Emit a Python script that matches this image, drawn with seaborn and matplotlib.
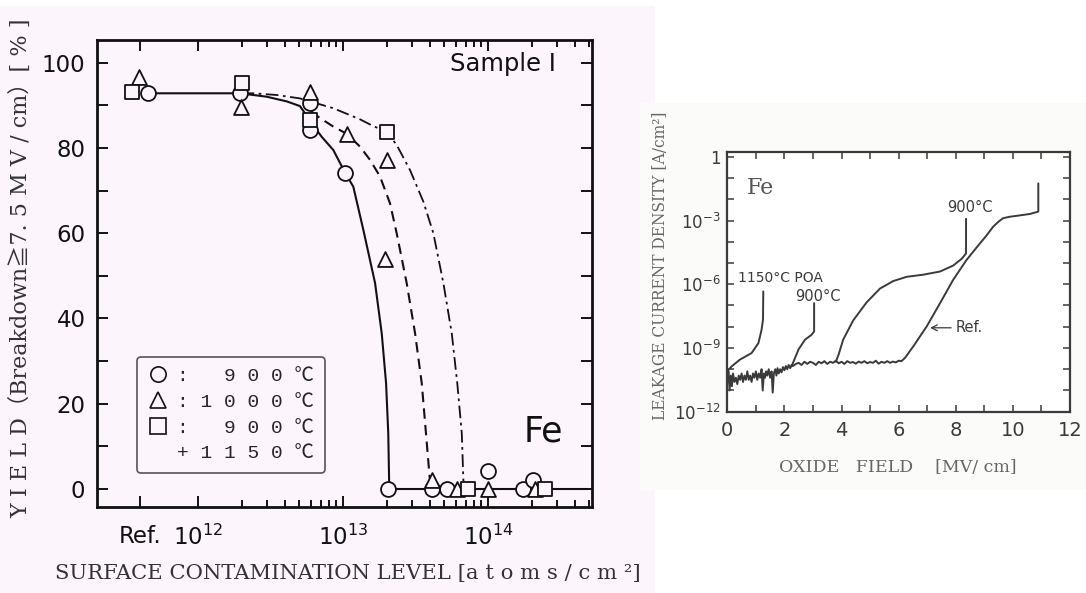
import numpy as np
import matplotlib
matplotlib.use("Agg")
import matplotlib.pyplot as plt
import seaborn as sns
from matplotlib.lines import Line2D
from matplotlib.patches import Rectangle
from matplotlib.ticker import FixedLocator, FixedFormatter, NullFormatter

# ---------------- Left panel: yield vs surface contamination (x = log10 atoms/cm2) -------------
circle_logx = [11.657, 12.290, 12.772, 12.772, 13.014, 13.312, 13.612, 13.715, 14.002, 14.239, 14.312]
circle_y = [92.8, 92.8, 90.6, 84.2, 74.2, 0.0, 0.0, 0.0, 4.2, 0.0, 2.0]
tri_logx = [11.595, 12.297, 12.772, 13.026, 13.300, 13.290, 13.612, 13.784, 14.002, 14.324]
tri_y = [96.7, 89.5, 93.2, 83.3, 77.2, 53.9, 2.0, 0.0, 0.0, 0.0]
sq_logx = [11.547, 12.301, 12.772, 13.300, 13.864, 14.393]
sq_y = [93.0, 95.3, 86.6, 83.8, 0.0, 0.0]

solid_logx = [11.70, 12.29, 12.474, 12.612, 12.703, 12.818, 12.853, 12.933, 13.014, 13.071,
              13.140, 13.221, 13.267, 13.297, 13.312, 13.319]
solid_y = [92.8, 92.8, 92.0, 90.9, 89.8, 84.2, 82.6, 79.5, 74.2, 70.9,
           60.8, 48.3, 36.5, 24.8, 13.1, 0.0]
dashed_logx = [12.780, 12.841, 12.933, 13.026, 13.117, 13.186, 13.255, 13.324, 13.370, 13.439,
               13.497, 13.543, 13.572, 13.598]
dashed_y = [88.6, 87.0, 85.0, 83.3, 80.3, 77.2, 73.3, 67.0, 60.0, 48.3,
            36.5, 24.8, 13.1, 2.5]
dashdot_logx = [12.300, 12.381, 12.543, 12.703, 12.933, 13.117, 13.209, 13.300, 13.370, 13.462,
                13.554, 13.623, 13.692, 13.750, 13.788, 13.819, 13.830, 13.840]
dashdot_y = [92.8, 92.8, 92.4, 91.6, 89.3, 86.7, 85.1, 83.8, 80.7, 74.8,
             67.4, 60.0, 48.3, 36.5, 24.8, 13.1, 2.1, 0.0]
zero_logx = [13.319, 14.680]
zero_y = [0.0, 0.0]

left_xtick_logs = [11.6, 12, 13, 14]
left_xtick_labels = ["Ref.", r"$10^{12}$", r"$10^{13}$", r"$10^{14}$"]
left_yticks = [0, 20, 40, 60, 80, 100]
legend_labels = [":   9 0 0 ℃", ": 1 0 0 0 ℃", ":   9 0 0 ℃", "+ 1 1 5 0 ℃"]

# ---------------- Right panel: leakage current density vs oxide field (log10 A/cm2) -------------
ref_field = [0.00, 0.04, 0.08, 0.12, 0.16, 0.20, 0.25, 0.30, 0.35, 0.40, 0.45, 0.50, 0.55, 0.60,
             0.65, 0.70, 0.75, 0.80, 0.85, 0.90, 0.95, 1.00, 1.05, 1.10, 1.15, 1.20, 1.24, 1.28,
             1.32, 1.36, 1.40, 1.45, 1.50, 1.55, 1.59, 1.63, 1.68, 1.72, 1.76, 1.80, 1.85, 1.90,
             1.95, 2.00, 2.05, 2.10, 2.15, 2.20, 2.25, 2.30, 2.40,
             2.5, 2.6, 2.7, 2.8, 2.9, 3.0, 3.1, 3.2, 3.3, 3.4, 3.5, 3.6, 3.7, 3.8, 3.9, 4.0,
             4.1, 4.2, 4.3, 4.4, 4.5, 4.6, 4.7, 4.8, 4.9, 5.0, 5.1, 5.2, 5.3, 5.4, 5.5, 5.6,
             5.7, 5.8, 5.9, 6.0, 6.1,
             6.22, 6.51, 6.98, 7.45, 7.91, 8.38, 8.85, 9.05, 9.31, 9.50, 9.66, 9.90, 10.13,
             10.60, 10.89, 10.89]
ref_logj = [-10.6, -10.1, -11.0, -10.3, -10.8, -10.2, -10.6, -10.4, -10.7, -10.3, -10.5, -10.2,
            -10.6, -10.3, -10.5, -10.1, -10.5, -10.3, -10.6, -10.2, -10.4, -10.1, -10.5, -10.2,
            -10.4, -10.0, -11.0, -10.2, -10.4, -10.1, -10.3, -10.0, -10.4, -10.1, -11.1, -10.2,
            -10.0, -10.3, -9.95, -10.2, -10.0, -10.15, -9.9, -10.05, -9.85, -10.0, -9.8, -9.95,
            -9.8, -9.85, -9.75,
            -9.70, -9.80, -9.65, -9.75, -9.65, -9.70, -9.80, -9.65, -9.72, -9.62, -9.75, -9.65,
            -9.70, -9.60, -9.72, -9.65, -9.75, -9.62, -9.70, -9.66, -9.74, -9.64, -9.70, -9.62,
            -9.72, -9.66, -9.70, -9.60, -9.74, -9.65, -9.70, -9.62, -9.70, -9.64, -9.68, -9.60,
            -9.62,
            -9.47, -8.93, -7.99, -6.89, -5.79, -4.85, -4.07, -3.75, -3.29, -3.05, -2.89, -2.82,
            -2.78, -2.69, -2.58, -1.25]
poa1150_field = [0.03, 0.15, 0.44, 0.85, 1.09, 1.20, 1.25, 1.26]
poa1150_logj = [-10.05, -9.87, -9.55, -9.24, -8.77, -8.14, -7.67, -6.34]
t900a_field = [2.25, 2.49, 2.72, 2.95, 3.04, 3.04]
t900a_logj = [-9.87, -9.08, -8.61, -8.38, -8.22, -6.89]
t900b_field = [3.80, 3.90, 4.06, 4.41, 4.88, 5.35, 5.81, 6.28, 6.86, 7.45, 7.91, 8.21, 8.36, 8.36]
t900b_logj = [-9.65, -9.30, -8.60, -7.70, -6.85, -6.20, -5.85, -5.65, -5.55, -5.40, -5.12,
              -4.80, -4.55, -2.92]

right_ytick_logs = [-12, -9, -6, -3, 0]
right_ytick_labels = [r"$10^{-12}$", r"$10^{-9}$", r"$10^{-6}$", r"$10^{-3}$", "1"]
right_xticks = [0, 2, 4, 6, 8, 10, 12]

# ---------------- Figure ----------------
sns.set_theme(style="ticks")
plt.rcParams["font.family"] = ["DejaVu Sans", "Noto Sans CJK JP"]
plt.rcParams["mathtext.fontset"] = "dejavusans"

W, H = 1086, 593
fig = plt.figure(figsize=(W / 100, H / 100), dpi=100)
fig.patch.set_facecolor("white")
BG = "#fcf6fc"
fig.add_artist(Rectangle((0, 0), 655 / W, 1 - 6 / H, transform=fig.transFigure,
                         facecolor=BG, edgecolor="none", zorder=-10))
fig.add_artist(Rectangle((640 / W, 1 - 490 / H), 446 / W, 387 / H, transform=fig.transFigure,
                         facecolor="#fbfbfa", edgecolor="none", zorder=-10))

def fx(px):
    return px / W

def fy(py):
    return 1 - py / H

def pw(a):
    return 10 ** np.asarray(a, dtype=float)

# Left axes
axL = fig.add_axes([fx(96.5), fy(506.7), (591.7 - 96.5) / W, (506.7 - 40) / H])
axL.set_facecolor("none")
ink = "#111111"

sns.lineplot(x=pw(solid_logx), y=solid_y, ax=axL, sort=False, estimator=None,
             color=ink, linewidth=1.5, zorder=2)
sns.lineplot(x=pw(dashed_logx), y=dashed_y, ax=axL, sort=False, estimator=None,
             color=ink, linewidth=1.5, zorder=2).lines[-1].set_dashes([5, 3])
sns.lineplot(x=pw(dashdot_logx), y=dashdot_y, ax=axL, sort=False, estimator=None,
             color=ink, linewidth=1.3, zorder=2).lines[-1].set_dashes([7, 2.5, 1.5, 2.5])
sns.lineplot(x=pw(zero_logx), y=zero_y, ax=axL, sort=False, estimator=None,
             color=ink, linewidth=1.5, zorder=2)

for lx, yy, mk in [(circle_logx, circle_y, "o"), (tri_logx, tri_y, "^"), (sq_logx, sq_y, "s")]:
    sns.scatterplot(x=pw(lx), y=yy, ax=axL, marker=mk, s=115, color=BG,
                    edgecolor=ink, linewidth=1.3, zorder=3, legend=False)

axL.set_xscale("log")
axL.set_xlim(10 ** 11.30, 10 ** 14.715)
axL.set_ylim(-4.15, 105.3)
axL.xaxis.set_major_locator(FixedLocator(pw(left_xtick_logs)))
axL.xaxis.set_major_formatter(FixedFormatter(left_xtick_labels))
minor_x = [m * 10 ** e for e in (12, 13) for m in range(2, 10)] + [m * 1e14 for m in range(2, 6)]
axL.xaxis.set_minor_locator(FixedLocator(minor_x))
axL.xaxis.set_minor_formatter(NullFormatter())
axL.yaxis.set_major_locator(FixedLocator(left_yticks))
axL.yaxis.set_minor_locator(FixedLocator([10, 30, 50, 70, 90]))
axL.tick_params(which="both", direction="in", top=True, right=True, colors=ink, width=1.4)
axL.tick_params(which="major", length=8, labelsize=16.5, pad=8)
axL.tick_params(axis="x", which="minor", length=5)
axL.tick_params(axis="y", which="minor", length=8)
axL.tick_params(axis="x", which="major", pad=13)
for s in axL.spines.values():
    s.set_linewidth(2.0)
    s.set_color(ink)
axL.set_xlabel("")
axL.set_ylabel("")

axL.text(10 ** 13.738, 99.7, "Sample Ⅰ", ha="left", va="center", fontsize=17.5, color=ink)
axL.text(10 ** 14.248, 13.4, "Fe", ha="left", va="center", fontsize=25, color=ink)

mk_kw = dict(linestyle="none", markersize=11, markerfacecolor=BG, markeredgecolor=ink,
             markeredgewidth=1.2)
handles = [Line2D([], [], marker="o", **mk_kw), Line2D([], [], marker="^", **mk_kw),
           Line2D([], [], marker="s", **mk_kw), Line2D([], [], linestyle="none")]
leg = axL.legend(handles, legend_labels, loc="lower left", bbox_to_anchor=(0.082, 0.072),
                 borderaxespad=0, frameon=True, fancybox=True, handlelength=1.0,
                 handletextpad=0.5, labelspacing=0.42, borderpad=0.55,
                 prop={"family": ["Liberation Mono", "Noto Sans CJK JP"], "size": 14})
leg.get_frame().set_edgecolor("#555555")
leg.get_frame().set_linewidth(1.2)
leg.get_frame().set_facecolor(BG)
leg.get_frame().set_alpha(1)

fig.text(fx(21), fy(268.5), "Y I E L D（Breakdown≧7. 5 M V / cm）[ % ]", rotation=90,
         ha="center", va="center", fontsize=16, color="#333333",
         family=["DejaVu Serif", "Noto Sans CJK JP"])
fig.text(fx(347.5), fy(573), "SURFACE CONTAMINATION LEVEL [a t o m s / c m ²]",
         ha="center", va="center", fontsize=15.2, color="#333333",
         family=["DejaVu Serif", "Noto Sans CJK JP"])

# Right axes
gray = "#3a3a3a"
axR = fig.add_axes([fx(727.3), fy(411.7), (1070 - 727.3) / W, (411.7 - 151.7) / H])
axR.set_facecolor("white")
for fld, lj in [(ref_field, ref_logj), (poa1150_field, poa1150_logj),
                (t900a_field, t900a_logj), (t900b_field, t900b_logj)]:
    sns.lineplot(x=fld, y=pw(lj), ax=axR, sort=False, estimator=None, color=gray,
                 linewidth=1.4)
axR.set_yscale("log")
axR.set_xlim(0, 12)
axR.set_ylim(1e-12, 10 ** 0.24)
axR.yaxis.set_major_locator(FixedLocator(pw(right_ytick_logs)))
axR.yaxis.set_major_formatter(FixedFormatter(right_ytick_labels))
axR.yaxis.set_minor_locator(FixedLocator(pw([e for e in range(-11, 0) if e % 3 != 0])))
axR.yaxis.set_minor_formatter(NullFormatter())
axR.xaxis.set_major_locator(FixedLocator(right_xticks))
axR.xaxis.set_minor_locator(FixedLocator([1, 3, 5, 7, 9, 11]))
axR.tick_params(which="both", direction="in", top=True, right=True, colors=gray,
                width=1.1, length=5)
axR.tick_params(axis="x", which="major", labelsize=14, pad=7)
axR.tick_params(axis="y", which="major", labelsize=12, pad=5)
for s in axR.spines.values():
    s.set_linewidth(1.6)
    s.set_color(gray)
axR.set_xlabel("")
axR.set_ylabel("")

axR.text(0.69, 10 ** -1.47, "Fe", ha="left", va="center", fontsize=16, color="#555555",
         family="DejaVu Serif")
axR.text(0.385, 10 ** -5.71, "1150°C POA", ha="left", va="center", fontsize=10, color=gray)
axR.text(2.37, 10 ** -6.58, "900°C", ha="left", va="center", fontsize=10.5, color=gray)
axR.text(7.69, 10 ** -2.41, "900°C", ha="left", va="center", fontsize=10.5, color=gray)
axR.annotate("Ref.", xy=(7.1, 10 ** -8.05), xytext=(8.0, 10 ** -8.05), ha="left", va="center",
             fontsize=10.5, color=gray,
             arrowprops=dict(arrowstyle="->", color=gray, lw=0.9, shrinkA=1, shrinkB=0))

fig.text(fx(661), fy(266), "LEAKAGE CURRENT DENSITY [A/cm²]", rotation=90, ha="center",
         va="center", fontsize=11.2, color="#666666", family="DejaVu Serif")
fig.text(fx(898), fy(468), "OXIDE   FIELD    [MV/ cm]", ha="center", va="center",
         fontsize=12.5, color="#666666", family="DejaVu Serif")

fig.savefig("out.png", dpi=100, facecolor=fig.get_facecolor())
